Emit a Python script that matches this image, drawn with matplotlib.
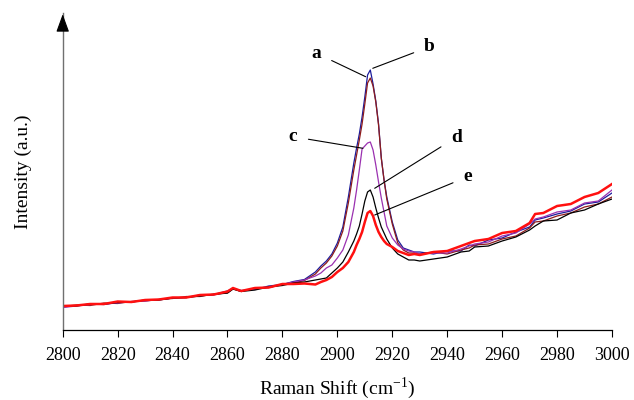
import matplotlib
matplotlib.use("Agg")
import matplotlib.pyplot as plt

plt.rcParams['font.family'] = ['Liberation Serif', 'DejaVu Serif']
plt.rcParams['mathtext.fontset'] = 'custom'
plt.rcParams['mathtext.rm'] = 'Liberation Serif'

# Raman shift grid (cm-1)
shift = [2800, 2805, 2810, 2815, 2820, 2825, 2830, 2835, 2840, 2845, 2850,
         2855, 2860, 2862, 2865, 2870, 2875, 2880, 2884, 2888, 2892, 2894,
         2896, 2898, 2900, 2902, 2904, 2906, 2907, 2908, 2909, 2910, 2911,
         2912, 2913, 2914, 2915, 2916, 2917, 2918, 2920, 2922, 2924, 2926,
         2928, 2930, 2935, 2940, 2945, 2948, 2950, 2955, 2960, 2965, 2970,
         2972, 2975, 2980, 2985, 2990, 2995, 3000]

# intensities (a.u.)
spec_a = [23.5, 25.0, 24.5, 27.0, 26.5, 28.5, 29.0, 30.5, 31.5, 33.5, 33.5,
          36.0, 37.0, 41.0, 38.5, 42.0, 42.5, 46.0, 47.0, 49.5, 56, 62,
          67, 74, 84, 99, 127, 160, 175, 190, 206, 226, 247,
          252, 244, 228, 205, 172, 150, 131, 106, 87, 80, 77,
          77, 76, 78, 76, 80, 82, 85, 86, 91, 94, 102,
          108, 109, 114, 117, 123, 126, 133]
spec_b = [23.0, 24.5, 26.0, 25.5, 27.5, 28.0, 29.5, 30.0, 32.0, 32.5, 35.0,
          35.5, 39.0, 41.5, 39.5, 40.5, 44.0, 45.5, 48.5, 50.5, 58, 64,
          69, 76, 87, 103, 133, 167, 182, 196, 213, 233, 255,
          260, 246, 229, 206, 172, 150, 133, 108, 90, 82, 80,
          78, 78, 76, 79, 79, 85, 84, 90, 92, 98, 103,
          110, 112, 116, 119, 126, 128, 137]
spec_c = [22.5, 24.0, 25.5, 26.0, 27.0, 28.5, 29.0, 30.5, 32.0, 32.5, 34.5,
          35.0, 38.5, 41.5, 39.0, 41.5, 42.5, 45.5, 48.0, 50.0, 54, 57,
          62, 65, 72, 80, 95, 122, 140, 160, 181, 184, 187,
          188, 180, 165, 148, 132, 118, 104, 92, 85, 81, 79,
          78, 76, 77, 77, 81, 84, 86, 88, 94, 97, 106,
          111, 113, 118, 120, 127, 129, 140]
spec_d = [24.0, 24.0, 26.0, 26.0, 27.5, 28.0, 30.0, 30.0, 32.0, 32.5, 34.0,
          35.5, 37.0, 41.0, 38.5, 40.0, 43.0, 44.5, 47.0, 48.0, 50, 51,
          52, 57, 62, 68, 78, 89, 96, 104, 116, 129, 138,
          140, 133, 122, 112, 103, 97, 91, 82, 76, 73, 70,
          70, 69, 71, 73, 78, 79, 83, 84, 89, 93, 100,
          104, 109, 110, 117, 120, 126, 131]
spec_e = [24.0, 24.5, 26.0, 26.0, 28.5, 28.0, 30.0, 30.5, 32.5, 32.5, 35.0,
          35.5, 38.5, 42.0, 39.0, 42.0, 42.5, 46.0, 46.0, 46.5, 45.5, 48,
          50, 53, 58, 62, 68, 78, 85, 91, 98, 108, 117,
          119, 114, 105, 98, 93, 89, 86, 83, 79, 77, 75,
          76, 75, 78, 79, 84, 87, 89, 91, 97, 99, 107,
          116, 117, 124, 126, 133, 137, 146]

xticks = list(range(2800, 3001, 20))

fig = plt.figure(figsize=(6.34, 4.0), dpi=100)
ax = fig.add_axes([0.0989, 0.175, 0.8664, 0.7925])

ax.plot(shift, spec_b, color='#1c1c9c', lw=0.9)
ax.plot(shift, spec_a, color='#8e1c1c', lw=0.9)
ax.plot(shift, spec_c, color='#9a30b0', lw=0.9)
ax.plot(shift, spec_d, color='black', lw=0.9)
ax.plot(shift, spec_e, color='#ff1010', lw=1.8)

ax.set_xlim(2800, 3000)
ax.set_ylim(0, 317)
ax.set_xticks(xticks)
ax.set_yticks([])
ax.tick_params(axis='x', direction='out', length=5, width=0.8, pad=7,
               labelsize=13)

for s in ['top', 'right']:
    ax.spines[s].set_visible(False)
ax.spines['left'].set_color('#707070')
ax.spines['left'].set_linewidth(1.0)
ax.spines['bottom'].set_linewidth(0.9)

# arrow head on top of the y axis
ax.annotate('', xy=(0, 1.005), xytext=(0, 0.96), xycoords='axes fraction',
            arrowprops=dict(arrowstyle='-|>,head_length=1.1,head_width=0.4',
                            color='black', lw=0.8), annotation_clip=False)

ax.set_xlabel('Raman Shift (cm$^{-1}$)', fontsize=14, labelpad=8)
ax.set_ylabel('Intensity (a.u.)', fontsize=14, labelpad=22)

# curve labels
lbl = dict(fontsize=14, fontweight='bold', ha='center', va='center',
           arrowprops=dict(arrowstyle='-', color='black', lw=0.8,
                           shrinkA=6, shrinkB=0))
ax.annotate('a', xy=(2910.3, 253.3), xytext=(2892.4, 276.7), **lbl)
ax.annotate('b', xy=(2912.9, 261.7), xytext=(2933.6, 283.3), **lbl)
ax.annotate('c', xy=(2909.3, 181.7), xytext=(2883.9, 193.3), **lbl)
ax.annotate('d', xy=(2913.6, 141.7), xytext=(2943.3, 192.7), **lbl)
ax.annotate('e', xy=(2913.6, 115.0), xytext=(2947.5, 153.3), **lbl)

fig.savefig('out.png', dpi=100)
